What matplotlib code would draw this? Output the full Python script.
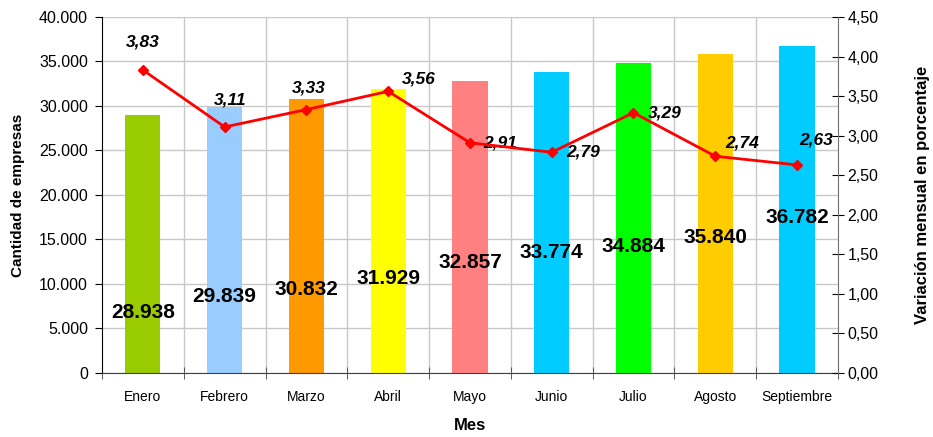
import numpy as np
import matplotlib
matplotlib.use("Agg")
import matplotlib.pyplot as plt
from matplotlib.ticker import FuncFormatter, MultipleLocator, FixedLocator

plt.rcParams['font.family'] = ['Liberation Sans', 'DejaVu Sans']

# data
meses = ['Enero', 'Febrero', 'Marzo', 'Abril', 'Mayo', 'Junio',
         'Julio', 'Agosto', 'Septiembre']
empresas = [28938, 29839, 30832, 31929, 32857, 33774, 34884, 35840, 36782]
variacion = [3.83, 3.11, 3.33, 3.56, 2.91, 2.79, 3.29, 2.74, 2.63]

bar_colors = ['#99CC00', '#99CCFF', '#FF9900', '#FFFF00', '#FF8080',
              '#00CCFF', '#00FF00', '#FFCC00', '#00CCFF']
# vertical placement of the big bar labels (left-axis units)
bar_label_y = [6742, 8539, 9326, 10562, 12360, 13483, 14157, 15169, 17416]
# offsets (pixels) of the percentage labels from their markers
pct_offsets = [(0, 28), (5, 27), (2, 22), (31, 12), (30, 0),
               (31, 0), (31, 0), (27, 13), (19, 25)]


def miles(v, pos):
    return '0' if v == 0 else f'{v:,.0f}'.replace(',', '.')


def coma(v, pos):
    return f'{v:.2f}'.replace('.', ',')


fig = plt.figure(figsize=(9.33, 4.37), dpi=100)
ax = fig.add_axes([0.1093, 0.1465, 0.7888, 0.8146])
x = np.arange(len(meses))

# grid
ax.set_axisbelow(True)
ax.yaxis.grid(True, color='#C8C8C8', linewidth=1)
for b in np.arange(0.5, len(meses) - 0.5, 1):
    ax.axvline(b, color='#C8C8C8', linewidth=1, zorder=0)

ax.bar(x, empresas, width=0.43, color=bar_colors, zorder=2)
for xi, v, ly in zip(x, empresas, bar_label_y):
    ax.text(xi, ly, miles(v, None), ha='center', va='center',
            fontsize=15, fontweight='bold', color='black', zorder=5)

ax.set_xlim(-0.5, len(meses) - 0.5)
ax.set_ylim(0, 40000)
ax.yaxis.set_major_locator(MultipleLocator(5000))
ax.yaxis.set_major_formatter(FuncFormatter(miles))
ax.set_xticks(x)
ax.set_xticklabels(meses, fontsize=10)
ax.xaxis.set_minor_locator(FixedLocator(np.arange(-0.5, len(meses), 1)))
ax.tick_params(axis='x', which='major', length=0, pad=12)
ax.tick_params(axis='x', which='minor', direction='inout', length=9,
               color='#404040')
ax.tick_params(axis='y', direction='out', length=5, pad=5, labelsize=11.5,
               color='black')

ax.spines['top'].set_visible(False)
ax.spines['right'].set_visible(False)
ax.spines['bottom'].set_color('#404040')
ax.spines['left'].set_color('black')

ax.set_ylabel('Cantidad de empresas', fontsize=11, fontweight='bold')
ax.yaxis.set_label_coords(-0.105, 0.5)
ax.set_xlabel('Mes', fontsize=12, fontweight='bold')
ax.xaxis.set_label_coords(0.5, -0.127)

# secondary axis: monthly variation
ax2 = ax.twinx()
ax2.plot(x, variacion, color='#FF0000', linewidth=2, marker='D',
         markersize=5.5, zorder=4)
for xi, v, (dx, dy) in zip(x, variacion, pct_offsets):
    ax2.annotate(coma(v, None), (xi, v), xytext=(dx, dy),
                 textcoords='offset pixels', ha='center', va='center',
                 fontsize=12.5, fontweight='bold', fontstyle='italic',
                 color='black')
ax2.set_ylim(0, 4.5)
ax2.yaxis.set_major_locator(MultipleLocator(0.5))
ax2.yaxis.set_major_formatter(FuncFormatter(coma))
ax2.tick_params(axis='y', direction='inout', length=8, pad=3, labelsize=11.5,
                color='black')
for s in ['top', 'left', 'bottom']:
    ax2.spines[s].set_visible(False)
ax2.spines['right'].set_color('#707070')
ax2.set_ylabel('Variación mensual en porcentaje', fontsize=12,
               fontweight='bold', rotation=90)
ax2.yaxis.set_label_coords(1.105, 0.5)

fig.savefig('out.png', dpi=100)
